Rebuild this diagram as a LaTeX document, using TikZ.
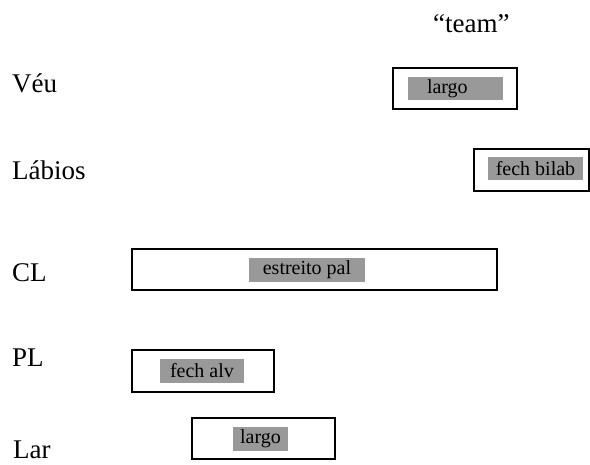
\documentclass[tikz,border=0pt]{standalone}
\usepackage{fontspec}
\setmainfont{Liberation Serif}
\begin{document}
\begin{tikzpicture}[x=1pt,y=-1pt,
  tier/.style={font=\fontsize{27}{32}\selectfont, anchor=base west, inner sep=0pt},
  frame/.style={draw=black, line width=1.4pt, fill=white, inner sep=0pt},
  gest/.style={fill=black!40, font=\fontsize{20}{24}\selectfont, inner sep=0pt, text=black},
]
\useasboundingbox (0,0) rectangle (590,465);
\node[tier] (title) at (433,33) {“team”};
\node[tier] (veu) at (12,93) {Véu};
\node[tier] (labios) at (12,180) {Lábios};
\node[tier] (cl) at (12,282) {CL};
\node[tier] (pl) at (12,367) {PL};
\node[tier] (lar) at (13,459) {Lar};

\node[frame, minimum width=124, minimum height=41] (veubox) at (455,88.5) {};
\node[gest, minimum width=95, minimum height=23, text width=57, align=left, inner xsep=19pt] (veug) at (455.5,88.5) {largo};

\node[frame, minimum width=115, minimum height=42] (labbox) at (531.5,170) {};
\node[gest, minimum width=95, minimum height=23] (labg) at (535.5,168.5) {fech bilab};

\node[frame, minimum width=365, minimum height=41] (clbox) at (314.5,269.5) {};
\node[gest, minimum width=116, minimum height=24] (clg) at (307,270) {estreito pal};

\node[frame, minimum width=142, minimum height=42] (plbox) at (203,371) {};
\node[gest, minimum width=84, minimum height=24] (plg) at (202,371) {fech alv};

\node[frame, minimum width=143, minimum height=41] (larbox) at (263.5,438.5) {};
\node[gest, minimum width=55, minimum height=24] (larg) at (260.5,439) {largo};
\end{tikzpicture}
\end{document}
